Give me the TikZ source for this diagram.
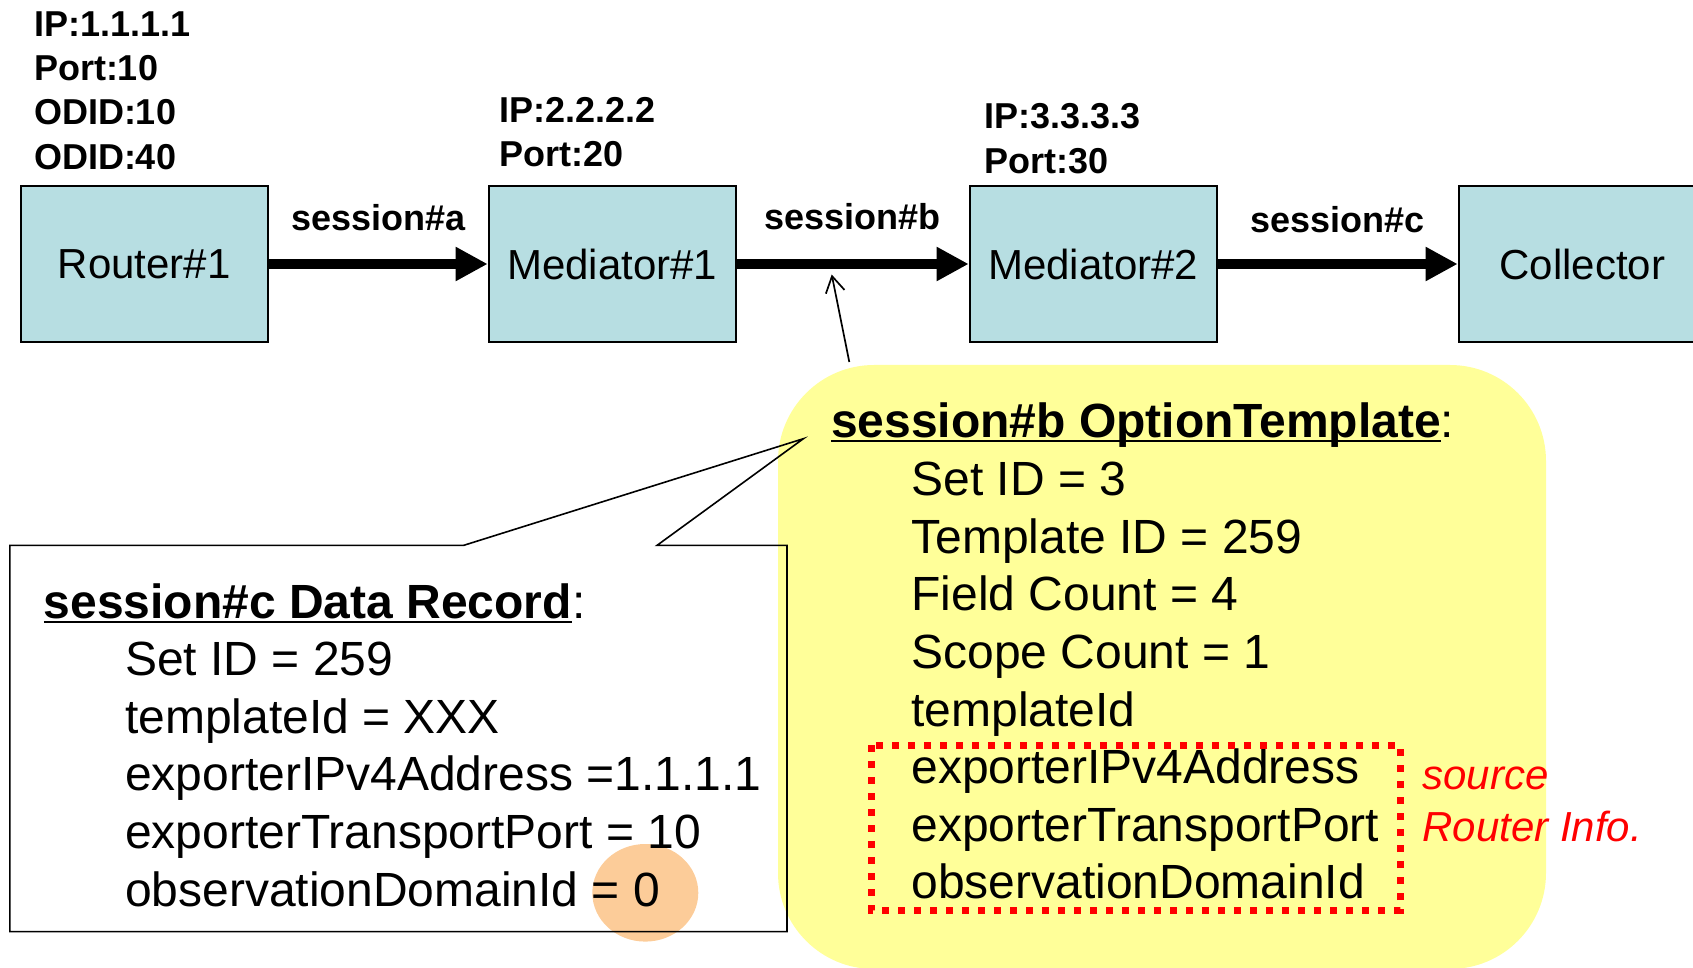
\documentclass[tikz,border=0pt]{standalone}
\usepackage{fontspec}
\setmainfont{Liberation Sans}
\usetikzlibrary{arrows.meta,positioning}

\definecolor{boxblue}{RGB}{183,222,226}
\definecolor{noteyellow}{RGB}{255,255,153}
\definecolor{zeroorange}{RGB}{252,204,153}

% underline with a thicker rule
\newsavebox{\ulheadbox}
\newcommand{\ulhead}[1]{\sbox{\ulheadbox}{#1}\rlap{\rule[-2.4pt]{\wd\ulheadbox}{1pt}}\usebox{\ulheadbox}}

\begin{document}
\begin{tikzpicture}[
  x=0.5pt, y=-0.5pt,
  box/.style={draw, line width=1pt, fill=boxblue, minimum width=123.5pt, minimum height=78pt, inner sep=0pt, font=\fontsize{21}{25}\selectfont},
  info/.style={anchor=south west, inner sep=0pt, align=left, font=\fontsize{18}{22.2}\selectfont\bfseries},
  sess/.style={inner sep=0pt, font=\fontsize{18}{22}\selectfont\bfseries},
  flow/.style={line width=5pt, -{Triangle[length=16pt,width=16pt]}},
  pointer/.style={line width=0.85pt, -{Straight Barb[length=8pt,width=9.5pt]}},
  tmplbox/.style={fill=noteyellow, rounded corners=48pt, minimum width=384pt, minimum height=302pt, inner sep=0pt},
  txtline/.style={anchor=base west, inner sep=0pt, font=\fontsize{24}{29}\selectfont},
  head/.style={txtline, font=\fontsize{24}{29}\selectfont\bfseries},
  srcinfo/.style={draw=red, line width=3.5pt, dash pattern=on 3.5pt off 4.5pt},
  rednote/.style={anchor=south west, inner sep=0pt, align=left, text=red, font=\fontsize{21}{26}\selectfont\itshape}
]
  \useasboundingbox (0,0) rectangle (1693,968);

  % boxes
  \node[box] (r1) at (144.2,264) {Router\#1};
  \node[box, right=109.5pt of r1] (m1) {Mediator\#1};
  \node[box, right=116pt of m1] (m2) {Mediator\#2};
  \node[box, right=120pt of m2] (col) {Collector};

  \node[info] (r1addr) at (33.6,170) {IP:1.1.1.1\\Port:10\\ODID:10\\ODID:40};
  \node[info] (m1addr) at (498.7,167.7) {IP:2.2.2.2\\Port:20};
  \node[info] (m2addr) at (984,174) {IP:3.3.3.3\\Port:30};

  \draw[flow] (r1) -- (m1) node[sess, midway, above=14pt] {session\#a};
  \draw[flow] (m1) -- (m2) node[sess, midway, above=14.5pt] {session\#b};
  \draw[flow] (m2) -- (col) node[sess, midway, above=13pt] {session\#c};

  % option template
  \node[tmplbox] (tmplbg) at (1162,667) {};
  \coordinate (bnote) at (849.3,362);
  \coordinate (btip) at (831.7,274.5);
  \draw[pointer] (bnote) -- (btip);

  % data record callout
  \fill[zeroorange] (645.3,892.8) ellipse [x radius=26.5pt, y radius=24.4pt];
  \draw[line width=0.8pt] (9.8,545.4) -- (463.5,545.4) -- (803.4,438.7) -- (657,545.4)
    -- (787,545.4) -- (787,931.6) -- (9.8,931.6) -- cycle;

  \node[head] (rechead) at (43.4,618) {\ulhead{session\#c Data Record}\mdseries:};
  \foreach \txt [count=\i] in {Set ID = 259, templateId = XXX, exporterIPv4Address =1.1.1.1,
      exporterTransportPort = 10, observationDomainId = 0}
    \node[txtline] (rec\i) at (124.7,618+57.6*\i) {\txt};

  \node[head] (tmplhead) at (830.6,437.6) {\ulhead{session\#b OptionTemplate}\mdseries:};
  \foreach \txt [count=\i] in {Set ID = 3, Template ID = 259, Field Count = 4, Scope Count = 1,
      templateId, exporterIPv4Address, exporterTransportPort, observationDomainId}
    \node[txtline] (tmpl\i) at (911,438+57.6*\i) {\txt};

  \draw[srcinfo] (871,745) rectangle (1400,910);
  \node[rednote] (srcnote) at (1422,842.8) {source\\Router Info.};
\end{tikzpicture}
\end{document}
